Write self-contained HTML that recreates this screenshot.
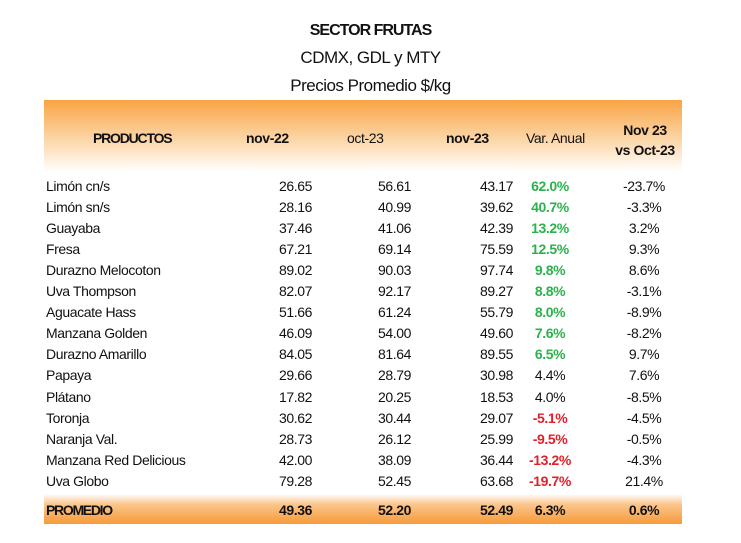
<html><head><style>
body{margin:0;width:741px;height:543px;background:#fff;font-family:"Liberation Sans",sans-serif;color:#111;position:relative;overflow:hidden}
.t{position:absolute;left:0;width:741px;text-align:center;font-size:17px;letter-spacing:-0.5px}
.hdr{position:absolute;left:44px;top:100px;width:638px;height:72px;background:linear-gradient(#f9a444,#fcd6a8 55%,#fff)}
.ftr{position:absolute;left:44px;top:494px;width:638px;height:30px;background:linear-gradient(#fff,#fbc58a 35%,#f79a3a)}
.c{position:absolute;font-size:14px;letter-spacing:-0.4px;white-space:nowrap}
.b{font-weight:bold}
.g{color:#2bb24c;font-weight:bold}.r{color:#e0202a;font-weight:bold}
</style></head><body>
<div class="t b" style="top:22px;font-size:16px;letter-spacing:-1px">SECTOR FRUTAS</div>
<div class="t" style="top:48px">CDMX, GDL y MTY</div>
<div class="t" style="top:76px">Precios Promedio $/kg</div>
<div class="hdr"></div><div class="ftr"></div>
<div class="c b" style="left:93px;top:130px;letter-spacing:-1.2px">PRODUCTOS</div>
<div class="c b" style="left:246px;top:130px">nov-22</div>
<div class="c" style="left:347px;top:130px">oct-23</div>
<div class="c b" style="left:446px;top:130px">nov-23</div>
<div class="c" style="left:526px;top:130px">Var. Anual</div>
<div class="c b" style="left:612px;top:120px;text-align:center;width:66px;line-height:20px">Nov 23<br>vs Oct-23</div>
<div id="rows"></div>
<script>
var d=[["Limón cn/s","26.65","56.61","43.17","62.0%","-23.7%","g"],["Limón sn/s","28.16","40.99","39.62","40.7%","-3.3%","g"],["Guayaba","37.46","41.06","42.39","13.2%","3.2%","g"],["Fresa","67.21","69.14","75.59","12.5%","9.3%","g"],["Durazno Melocoton","89.02","90.03","97.74","9.8%","8.6%","g"],["Uva Thompson","82.07","92.17","89.27","8.8%","-3.1%","g"],["Aguacate Hass","51.66","61.24","55.79","8.0%","-8.9%","g"],["Manzana Golden","46.09","54.00","49.60","7.6%","-8.2%","g"],["Durazno Amarillo","84.05","81.64","89.55","6.5%","9.7%","g"],["Papaya","29.66","28.79","30.98","4.4%","7.6%",""],["Plátano","17.82","20.25","18.53","4.0%","-8.5%",""],["Toronja","30.62","30.44","29.07","-5.1%","-4.5%","r"],["Naranja Val.","28.73","26.12","25.99","-9.5%","-0.5%","r"],["Manzana Red Delicious","42.00","38.09","36.44","-13.2%","-4.3%","r"],["Uva Globo","79.28","52.45","63.68","-19.7%","21.4%","r"],["PROMEDIO","49.36","52.20","52.49","6.3%","0.6%","b"]];
var h="";d.forEach(function(r,i){var y=178+i*21.05;if(i==15)y=502;var b=i==15?" b":"";
h+='<div class="c'+b+'" style="left:46px;top:'+y+'px'+(i==15?';letter-spacing:-1.3px':'')+'">'+r[0]+'</div>';
h+='<div class="c'+b+'" style="right:429px;top:'+y+'px">'+r[1]+'</div>';
h+='<div class="c'+b+'" style="right:330px;top:'+y+'px">'+r[2]+'</div>';
h+='<div class="c'+b+'" style="right:228px;top:'+y+'px">'+r[3]+'</div>';
h+='<div class="c '+r[6]+'" style="left:510px;width:80px;text-align:center;top:'+y+'px">'+r[4]+'</div>';
h+='<div class="c'+b+'" style="left:604px;width:80px;text-align:center;top:'+y+'px">'+r[5]+'</div>';});
document.getElementById("rows").innerHTML=h;
</script>
</body></html>
